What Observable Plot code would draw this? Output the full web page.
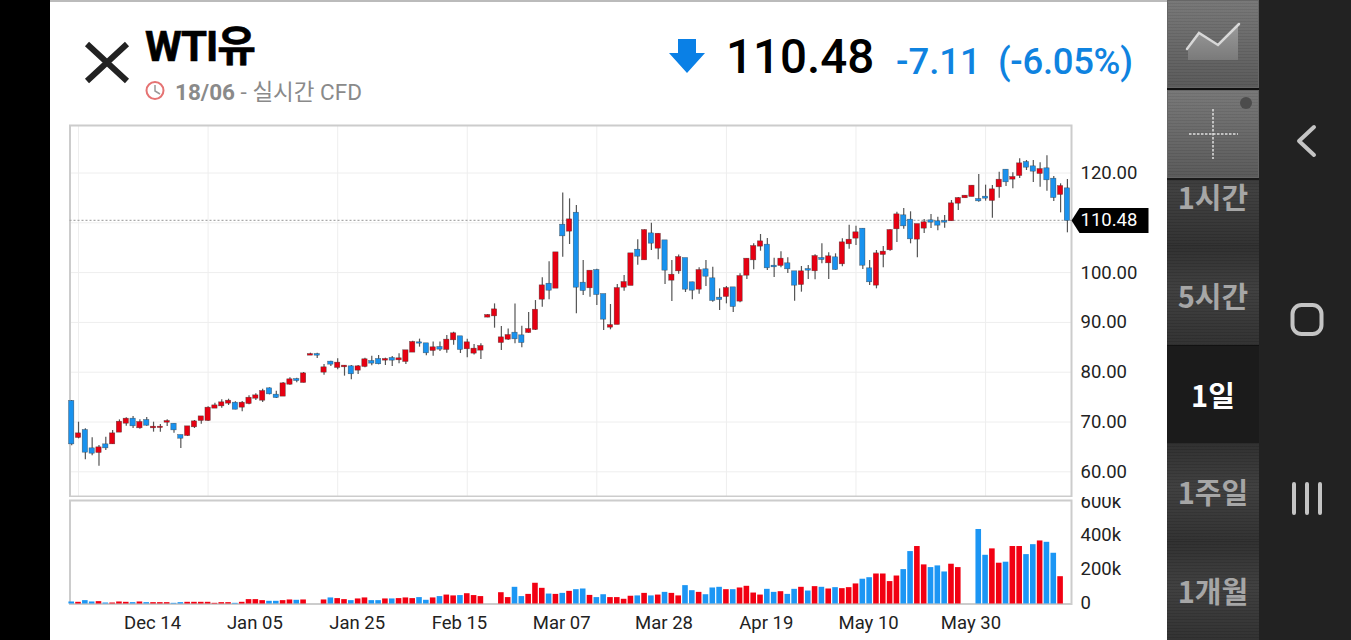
<!DOCTYPE html>
<html lang="ko">
<head>
<meta charset="utf-8">
<script src="https://cdn.jsdelivr.net/npm/d3@7"></script>
<script src="https://cdn.jsdelivr.net/npm/@observablehq/plot@0.6"></script>
<style>
html,body{margin:0;padding:0;background:#000;width:1351px;height:640px;overflow:hidden;font-family:Roboto,"Noto Sans CJK KR",sans-serif}
.abs{position:absolute}
#panel{left:50px;top:0;width:1117px;height:640px;background:#fff;box-sizing:border-box;border-top:2px solid #bbb}
#side{left:1167px;top:0;width:92px;height:640px;background:#333}
#nav{left:1259px;top:0;width:92px;height:640px;background:#222}
.btn{left:1167px;width:92px;height:88px;background:repeating-linear-gradient(rgba(0,0,0,.05) 0 1px,rgba(255,255,255,.02) 1px 3px),linear-gradient(#767676,#585858);box-shadow:inset 0 0 0 1px #666}
.row{left:1167px;width:92px;background:repeating-linear-gradient(rgba(0,0,0,.06) 0 1px,rgba(255,255,255,.015) 1px 3px),linear-gradient(#2e2e2e,#3e3e3e 45%,#303030);text-align:center;font-weight:700;font-size:29px;color:#a6a6a6;font-family:"Noto Sans CJK KR",Roboto,sans-serif}
</style>
</head>
<body>
<div id="panel" class="abs"></div>
<div id="side" class="abs"></div>
<div id="nav" class="abs"></div>

<div class="abs row" style="top:147px;height:98px;line-height:98px">1시간</div>
<div class="abs row" style="top:245px;height:100px;line-height:100px">5시간</div>
<div class="abs row" style="top:345px;height:98px;line-height:96px;background:#1b1b1b;color:#fff;border-top:1px solid #111;box-sizing:border-box">1일</div>
<div class="abs row" style="top:443px;height:98px;line-height:97px">1주일</div>
<div class="abs row" style="top:541px;height:99px;line-height:99px">1개월</div>
<div class="abs btn" style="top:0"></div>
<div class="abs btn" style="top:90px"></div>
<div class="abs" style="left:1167px;top:88px;width:92px;height:2px;background:#111"></div>
<div class="abs" style="left:1167px;top:178px;width:92px;height:2px;background:#1a1a1a"></div>

<svg class="abs" style="left:0;top:0" width="1351" height="640" fill="none">
  <defs><linearGradient id="ar" x1="0" y1="0" x2="0" y2="1"><stop offset="0" stop-color="#9a9a9a"/><stop offset="1" stop-color="#7a7a7a"/></linearGradient></defs>
  <path d="M1188 50L1199 34L1218 46L1238 26V60H1188Z" fill="url(#ar)"/>
  <path d="M1187 49L1199 33L1218 45L1239 24" stroke="#d8d8d8" stroke-width="2.5" stroke-linecap="round"/>
  <path d="M1189 134H1238M1213 109V159" stroke="#e0e0e0" stroke-width="1.5" stroke-dasharray="2.5 1.5"/>
  <circle cx="1246" cy="103" r="6" fill="#4c4c4c"/>
  <path d="M1314 127L1299 141L1314 155" stroke="#c4c4c4" stroke-width="4" stroke-linecap="round" stroke-linejoin="round"/>
  <rect x="1292.5" y="305" width="29" height="29" rx="9" stroke="#c4c4c4" stroke-width="4"/>
  <path d="M1294 484V513M1307 484V513M1320 484V513" stroke="#c4c4c4" stroke-width="4" stroke-linecap="round"/>
  <path d="M87 44L127 81M127 44L87 81" stroke="#222" stroke-width="6"/>
  <circle cx="155" cy="90.5" r="8.5" stroke="#e57373" stroke-width="2"/>
  <path d="M155 85V91L160 94" stroke="#999" stroke-width="1.5"/>
  <path d="M678 39H696V53H705L687 73L669 53H678Z" fill="#0a80e6"/>
</svg>

<div class="abs" style="left:145px;top:21px;font-size:42px;font-weight:700;color:#000;line-height:52px;font-family:Roboto,'Noto Sans CJK KR',sans-serif;-webkit-text-stroke:.6px #000;letter-spacing:-1px">WTI유</div>
<div class="abs" style="left:175px;top:77px;font-size:22.5px;line-height:30px;color:#8a8a8a"><b style="font-weight:700">18/06</b> - 실시간 CFD</div>
<div class="abs" style="left:726px;top:29px;font-size:47.5px;line-height:56px;font-weight:500;color:#000">110.48</div>
<div class="abs" style="left:896px;top:41px;font-size:36.5px;line-height:42px;font-weight:500;color:#0f83e0">-7.11</div>
<div class="abs" style="left:998px;top:41px;font-size:36.5px;line-height:42px;font-weight:500;color:#0f83e0;letter-spacing:-.3px">(-6.05%)</div>

<div id="main" class="abs" style="left:68px;top:124px;width:1082px;height:373px;overflow:hidden"></div>
<div id="vol" class="abs" style="left:68px;top:497px;width:1082px;height:143px;overflow:hidden"></div>

<script>
const highs = [
74.31,69.96,68.63,66.82,65.28,66.95,68.29,70.43,70.83,71.10,
70.43,70.90,69.96,69.50,70.43,69.63,67.35,69.09,70.30,71.10,
73.04,73.78,74.45,74.58,74.05,74.11,75.25,75.65,76.59,76.86,
76.19,77.93,78.87,78.80,79.94,83.82,83.82,81.55,82.22,82.69,
81.35,81.35,81.35,82.82,83.22,83.36,82.82,83.16,83.69,84.36,
86.24,86.64,85.77,86.04,86.04,87.37,88.04,87.17,86.64,85.57,
85.70,91.59,93.72,89.17,88.70,93.72,89.24,91.99,94.39,98.95,
102.16,104.03,116.01,114.81,113.47,102.43,100.29,100.69,95.60,93.59,
97.61,99.42,103.77,106.58,108.58,109.92,107.78,106.38,102.43,103.56,
102.83,98.08,100.96,102.43,101.09,96.74,97.21,96.94,99.75,102.77,
105.78,107.65,106.85,102.90,104.17,102.97,100.22,101.23,101.43,103.57,
105.78,103.97,103.77,106.78,109.52,109.32,108.79,102.43,104.44,105.24,
108.59,112.14,112.87,112.21,109.66,110.67,111.67,111.13,111.47,114.48,
115.08,115.48,117.49,119.70,117.56,117.49,120.17,120.64,120.04,122.85,
122.51,122.51,122.04,123.45,119.30,117.83,118.70];
const lows = [
65.21,66.62,62.40,63.20,61.13,64.28,65.48,67.96,69.16,68.69,
68.56,69.16,67.96,67.96,69.09,67.76,64.68,67.09,68.69,69.56,
70.10,72.71,72.78,73.31,72.44,72.04,73.44,74.31,73.91,75.45,
74.72,75.12,77.39,77.86,77.86,83.35,82.75,79.41,81.15,80.48,
79.21,78.47,79.54,80.88,81.28,81.48,81.35,81.15,81.69,81.55,
83.96,85.03,83.29,83.22,84.16,83.83,85.43,83.76,82.89,83.43,
82.56,90.92,88.84,84.35,86.36,85.69,84.89,87.84,88.37,93.06,
94.53,96.87,103.10,105.64,91.72,95.40,95.07,93.39,88.37,88.51,
89.51,96.27,97.41,101.49,102.56,104.43,102.56,97.61,94.19,99.68,
96.01,94.53,95.67,97.21,94.06,92.39,93.73,91.99,93.93,98.62,
100.56,104.30,100.42,99.02,100.96,99.82,94.27,96.07,98.62,98.55,
101.76,98.62,100.49,101.16,104.71,105.44,100.62,97.41,96.74,100.96,
104.31,106.05,108.72,105.78,102.97,107.85,108.86,108.39,108.93,110.33,
112.47,114.95,115.22,114.15,114.35,110.93,114.95,117.29,116.82,118.90,
120.50,118.09,117.16,116.35,114.28,112.00,107.99];
const opens = [
74.11,66.89,68.29,64.61,63.87,65.41,65.61,67.96,69.76,70.57,
68.83,70.30,68.83,68.89,69.96,69.56,67.29,67.29,69.03,70.30,
70.30,72.78,73.24,73.78,73.78,72.98,73.71,74.78,74.38,76.66,
75.39,75.19,77.59,78.53,77.93,83.42,83.55,80.01,82.02,80.95,
81.08,81.08,80.41,81.15,82.15,82.56,82.42,82.76,82.49,82.15,
84.03,85.90,85.70,84.36,84.97,84.56,86.50,87.11,84.70,83.83,
84.43,91.06,91.31,85.96,86.63,87.84,87.30,87.97,88.57,94.66,
97.67,96.87,109.52,108.32,111.93,97.88,96.94,100.42,95.60,89.04,
89.58,97.07,97.41,104.50,102.56,107.78,104.90,106.38,98.48,100.35,
102.83,97.95,96.67,100.56,98.75,94.87,95.20,96.94,94.27,99.48,
102.56,105.31,105.51,101.29,101.43,101.76,100.16,97.61,100.62,100.36,
102.83,101.96,102.97,101.76,105.78,106.92,108.72,100.76,97.48,103.64,
104.58,108.79,111.40,110.53,106.72,108.93,110.40,110.20,110.26,110.40,
113.94,115.02,115.28,114.68,115.15,114.48,117.22,120.57,118.77,119.50,
122.11,121.24,119.90,120.84,118.76,115.69,116.82];
const closes = [
65.61,67.62,63.94,63.74,64.81,64.81,67.62,69.96,70.57,69.23,
69.90,69.36,68.96,68.96,70.10,68.42,66.75,69.03,70.03,71.03,
72.78,73.24,73.85,74.18,72.57,73.78,74.78,75.25,76.12,75.65,
74.92,77.66,78.47,78.33,79.67,83.55,83.42,80.88,81.62,81.82,
81.22,79.68,81.08,82.49,81.82,81.69,82.56,82.42,82.69,84.30,
85.97,85.84,83.89,84.90,84.63,86.44,87.71,84.56,85.90,84.63,
85.17,91.39,92.52,86.90,87.37,86.70,85.96,88.57,92.45,97.34,
96.47,103.97,107.38,110.59,97.07,96.40,100.29,95.60,90.65,89.37,
96.80,98.01,103.77,103.30,108.45,105.91,107.71,100.49,99.48,103.03,
96.67,96.47,100.42,99.28,94.40,94.60,96.81,93.19,99.22,102.70,
105.24,106.18,100.96,101.16,102.70,100.76,97.48,100.16,100.49,103.23,
102.63,103.17,100.62,105.98,106.51,107.99,101.49,98.15,103.77,104.11,
108.46,111.60,109.39,106.78,109.66,110.00,110.13,109.53,110.13,113.81,
114.88,115.35,117.36,114.41,114.95,116.62,118.56,118.23,119.10,121.84,
121.17,120.37,120.70,118.63,115.08,117.29,110.48];
const volumesK = [
12,10,20,12,14,6,6,12,10,8,
12,8,8,8,8,4,8,10,10,10,
10,4,8,8,4,10,26,26,20,16,
16,20,24,22,24,null,null,24,36,32,
26,20,30,36,20,20,30,30,32,36,
32,38,22,36,44,53,48,50,61,50,
44,null,null,67,38,99,44,57,123,93,
59,57,63,75,85,89,51,38,55,38,
38,28,46,48,63,48,53,69,63,48,
109,79,69,55,95,99,85,85,95,105,
65,53,87,69,73,57,87,99,77,103,
99,89,97,91,97,119,147,156,178,178,
133,166,204,311,341,232,216,226,190,236,
216,null,null,442,289,327,242,248,341,341,
293,352,374,366,301,162,null];
const dateLabels = ["Dec 14","Jan 05","Jan 25","Feb 15","Mar 07","Mar 28","Apr 19","May 10","May 30"];
const dateIndex = [12,27,42,57,72,87,102,117,132];
const gridIndex = [1,20,39,58,77,96,115,134];
const priceTicks = [60,70,80,90,100,110,120];
const volumeTicks = [0,200,400,600];
const lastPrice = 110.48;

const RED = "#e60012", BLUE = "#1992ee";
const candles = closes.map((c,i)=>({i,open:opens[i],close:c,high:highs[i],low:lows[i],vol:volumesK[i]}));
const color = d => d.close >= d.open ? RED : BLUE;
const xDomain = [-0.25, 146.6];
const font = "Roboto, 'Noto Sans CJK KR', sans-serif";
const half = 0.39;

const tagSymbol = {draw(c){c.moveTo(0,0);c.lineTo(8,-12.5);c.lineTo(77,-12.5);c.lineTo(77,12.5);c.lineTo(8,12.5);c.closePath();}};

document.getElementById("main").append(Plot.plot({
  width:1082,height:373,marginLeft:1.5,marginRight:79,marginTop:1,marginBottom:1,
  style:{background:"transparent",fontFamily:font,fontSize:"18.5px",color:"#222"},
  x:{domain:xDomain,axis:null},
  y:{domain:[55.04,129.54]},
  marks:[
    Plot.ruleX(gridIndex,{stroke:"#eee",strokeWidth:1}),
    Plot.ruleY(priceTicks,{stroke:"#eee",strokeWidth:1}),
    Plot.frame({stroke:"#ccc",strokeWidth:2}),
    Plot.ruleY([lastPrice],{stroke:"#aaa",strokeWidth:1.3,strokeDasharray:"2,2"}),
    Plot.ruleX(candles,{x:"i",y1:"low",y2:"high",stroke:"#555",strokeWidth:1.2}),
    Plot.rect(candles,{x1:d=>d.i-half,x2:d=>d.i+half,y1:"open",y2:"close",fill:color,stroke:"#333",strokeWidth:0.5,strokeOpacity:0.7,insetTop:-0.5,insetBottom:-0.5}),
    Plot.axisY(priceTicks,{anchor:"right",tickSize:0,tickPadding:9,tickFormat:d=>d.toFixed(2),label:null,fill:"#222",textAnchor:"start"}),
    Plot.dot([lastPrice],{x:()=>xDomain[1],y:d=>d,symbol:tagSymbol,fill:"#000",stroke:"none"}),
    Plot.text([lastPrice],{x:()=>xDomain[1],y:d=>d,text:d=>d.toFixed(2),dx:9,textAnchor:"start",fill:"#fff",fontSize:18.5})
  ]
}));

document.getElementById("vol").append(Plot.plot({
  width:1082,height:143,marginLeft:1.5,marginRight:79,marginTop:3,marginBottom:36.5,
  style:{background:"transparent",fontFamily:font,fontSize:"18.5px",color:"#222"},
  x:{domain:xDomain,axis:null},
  y:{domain:[0,614]},
  marks:[
    Plot.frame({stroke:"#ccc",strokeWidth:2}),
    Plot.rectY(candles.filter(d=>d.vol!=null),{x1:d=>d.i-0.41,x2:d=>d.i+0.41,y1:0,y2:"vol",fill:d=>d.close>=d.open?"#f20012":"#1c96f4"}),
    Plot.axisY(volumeTicks,{anchor:"right",tickSize:0,tickPadding:9,tickFormat:d=>d===0?"0":d+"k",label:null,fill:"#222",textAnchor:"start",dy:-1}),
    Plot.axisX(dateIndex,{anchor:"bottom",tickSize:0,tickPadding:11.5,tickFormat:d=>dateLabels[dateIndex.indexOf(d)],label:null,fill:"#222",dx:-1})
  ]
}));
</script>
</body>
</html>
